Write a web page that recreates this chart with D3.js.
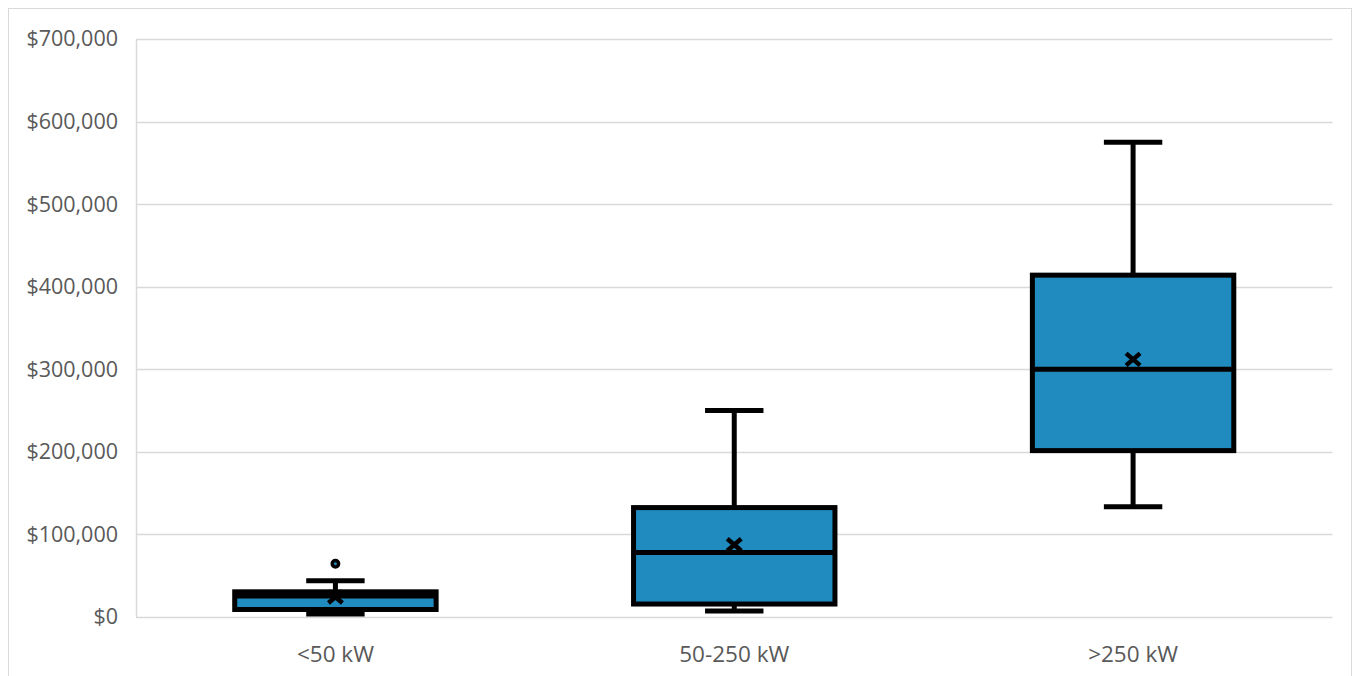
<!DOCTYPE html>
<html>
<head>
<meta charset="utf-8">
<script src="https://cdn.jsdelivr.net/npm/d3@7"></script>
<style>
  html, body { margin: 0; padding: 0; background: #fff; }
  svg { display: block; }
</style>
</head>
<body>
<svg id="chart" width="1353" height="676"></svg>
<script>
// Project cost distribution by system size
const categories = ["<50 kW", "50-250 kW", ">250 kW"];
const whiskerLow  = [3600, 7300, 133500];
const q1Values    = [9100, 15700, 201500];
const medians     = [25500, 78000, 300000];
const q3Values    = [30500, 132500, 414000];
const whiskerHigh = [44000, 250000, 575000];
const means       = [24200, 87500, 312000];
const outliers    = [[64500], [], []];
const yTicks = [0, 100000, 200000, 300000, 400000, 500000, 600000, 700000];

const svg = d3.select("#chart");
const W = 1353, H = 676;
const margin = { left: 136, right: 20, top: 39, bottom: 59 };
const fill = "#1f8bbf";
const font = "'Open Sans', 'Noto Sans', sans-serif";

// outer chart frame
svg.append("rect")
  .attr("x", 8.5).attr("y", 8.5)
  .attr("width", W - 10).attr("height", H + 10)
  .attr("fill", "#fff").attr("stroke", "#d9d9d9").attr("stroke-width", 1);

const x = d3.scaleBand()
  .domain(categories)
  .range([margin.left, W - margin.right + 0.5 - 1])
  .paddingInner(0).paddingOuter(0);

const y = d3.scaleLinear()
  .domain([0, 700000])
  .range([H - margin.bottom, margin.top]);

// gridlines
svg.append("g")
  .selectAll("line")
  .data(yTicks)
  .join("line")
  .attr("x1", margin.left).attr("x2", x.range()[1])
  .attr("y1", d => Math.round(y(d)) + 0.5)
  .attr("y2", d => Math.round(y(d)) + 0.5)
  .attr("stroke", "#d9d9d9").attr("stroke-width", 1.5);

// left axis line
svg.append("line")
  .attr("x1", margin.left + 0.5).attr("x2", margin.left + 0.5)
  .attr("y1", y(700000)).attr("y2", y(0))
  .attr("stroke", "#d9d9d9").attr("stroke-width", 1.5);

// y axis labels
const yAxis = d3.axisLeft(y)
  .tickValues(yTicks)
  .tickSize(0)
  .tickPadding(18)
  .tickFormat(d => "$" + d3.format(",")(d));
const gy = svg.append("g")
  .attr("transform", `translate(${margin.left},0)`)
  .call(yAxis);
gy.select(".domain").remove();
gy.selectAll("text")
  .attr("fill", "#595959")
  .style("font-family", font)
  .style("font-size", "21.5px");

// x axis labels
const xAxis = d3.axisBottom(x).tickSize(0).tickPadding(29);
const gx = svg.append("g")
  .attr("transform", `translate(0,${y(0)})`)
  .call(xAxis);
gx.select(".domain").remove();
gx.selectAll("text")
  .attr("fill", "#595959")
  .style("font-family", font)
  .style("font-size", "22.5px");

// boxes
const boxW = x.bandwidth() * 0.505;
const capW = boxW * 0.29;
const sw = 5;
const data = categories.map((c, i) => ({
  c, lo: whiskerLow[i], q1: q1Values[i], med: medians[i], q3: q3Values[i],
  hi: whiskerHigh[i], mean: means[i], out: outliers[i]
}));

const g = svg.append("g");
data.forEach(d => {
  const cx = x(d.c) + x.bandwidth() / 2;
  const grp = g.append("g");
  // whiskers
  grp.append("line")
    .attr("x1", cx).attr("x2", cx)
    .attr("y1", y(d.hi)).attr("y2", y(d.q3))
    .attr("stroke", "#000").attr("stroke-width", sw);
  grp.append("line")
    .attr("x1", cx).attr("x2", cx)
    .attr("y1", y(d.q1)).attr("y2", y(d.lo))
    .attr("stroke", "#000").attr("stroke-width", sw);
  [d.hi, d.lo].forEach(v => {
    grp.append("line")
      .attr("x1", cx - capW / 2).attr("x2", cx + capW / 2)
      .attr("y1", y(v)).attr("y2", y(v))
      .attr("stroke", "#000").attr("stroke-width", sw);
  });
  // box
  grp.append("rect")
    .attr("x", cx - boxW / 2).attr("width", boxW)
    .attr("y", y(d.q3)).attr("height", y(d.q1) - y(d.q3))
    .attr("fill", fill).attr("stroke", "#000").attr("stroke-width", sw);
  // median
  grp.append("line")
    .attr("x1", cx - boxW / 2).attr("x2", cx + boxW / 2)
    .attr("y1", y(d.med)).attr("y2", y(d.med))
    .attr("stroke", "#000").attr("stroke-width", sw);
  // mean marker
  const my = y(d.mean), mw = 7, mh = 6;
  grp.append("path")
    .attr("d", `M${cx - mw},${my - mh}L${cx + mw},${my + mh}M${cx - mw},${my + mh}L${cx + mw},${my - mh}`)
    .attr("stroke", "#000").attr("stroke-width", 4.5).attr("fill", "none");
  // outliers
  d.out.forEach(v => {
    grp.append("circle")
      .attr("cx", cx).attr("cy", y(v)).attr("r", 3.2)
      .attr("fill", fill).attr("stroke", "#000").attr("stroke-width", 3.5);
  });
});
</script>
</body>
</html>
